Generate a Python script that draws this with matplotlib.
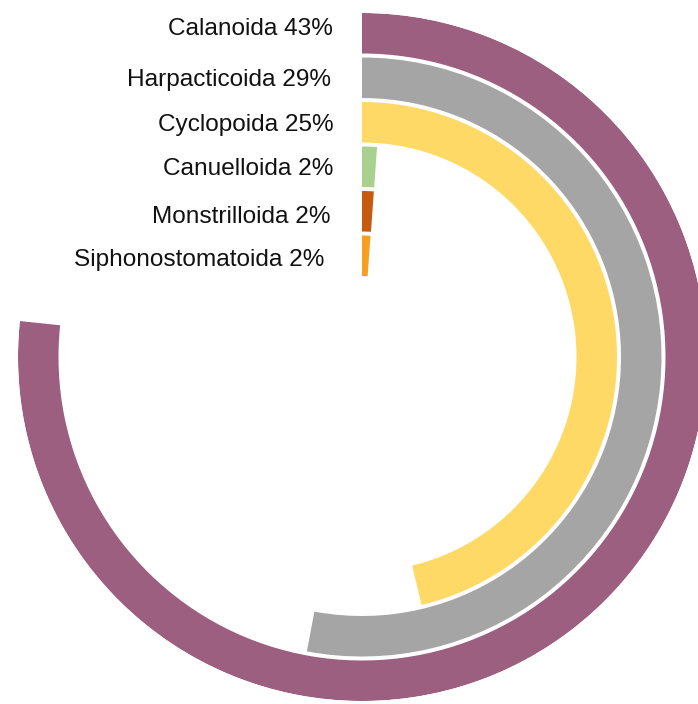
import numpy as np
import matplotlib
matplotlib.use("Agg")
import matplotlib.pyplot as plt

# ---- data ----
categories = ["Calanoida", "Harpacticoida", "Cyclopoida", "Canuelloida",
              "Monstrilloida", "Siphonostomatoida"]
label_pct = [43, 29, 25, 2, 2, 2]
# drawn bar extents (degrees, clockwise from top)
bar_extent_deg = [276.0, 190.6, 166.5, 4.1, 4.1, 4.0]
colors = ["#9C5F7F", "#A5A5A5", "#FFD966", "#A9D18E", "#C55A11", "#F5A01E"]

# ---- layout ----
W, H = 698, 704
cx, cy = 362, 357          # centre in pixels (from top-left)
R = 344                    # outer radius in pixels
ring_pitch = 44.5
ring_w = 40.5
label_y_px = [29, 80, 125, 169, 217, 260]
label_right_px = [333, 331, 334, 333, 331, 324]

plt.rcParams['font.family'] = ['Liberation Sans', 'DejaVu Sans']
fig = plt.figure(figsize=(W / 100, H / 100), dpi=100)
ax = fig.add_axes([(cx - R) / W, (H - cy - R) / H, 2 * R / W, 2 * R / H],
                  projection='polar')
ax.set_theta_zero_location('N')
ax.set_theta_direction(-1)
ax.set_ylim(0, R)
ax.axis('off')

for i, (ext, col) in enumerate(zip(bar_extent_deg, colors)):
    r_out = R - i * ring_pitch
    ax.barh(r_out - ring_w / 2, np.deg2rad(ext), height=ring_w, left=0,
            color=col, edgecolor='none', align='center')

for name, pct, y, xr in zip(categories, label_pct, label_y_px, label_right_px):
    fig.text(xr / W, 1 - y / H, f"{name} {pct}%", ha='right', va='center',
             fontsize=17.6, color='#111111')

fig.savefig("out.png", dpi=100)
